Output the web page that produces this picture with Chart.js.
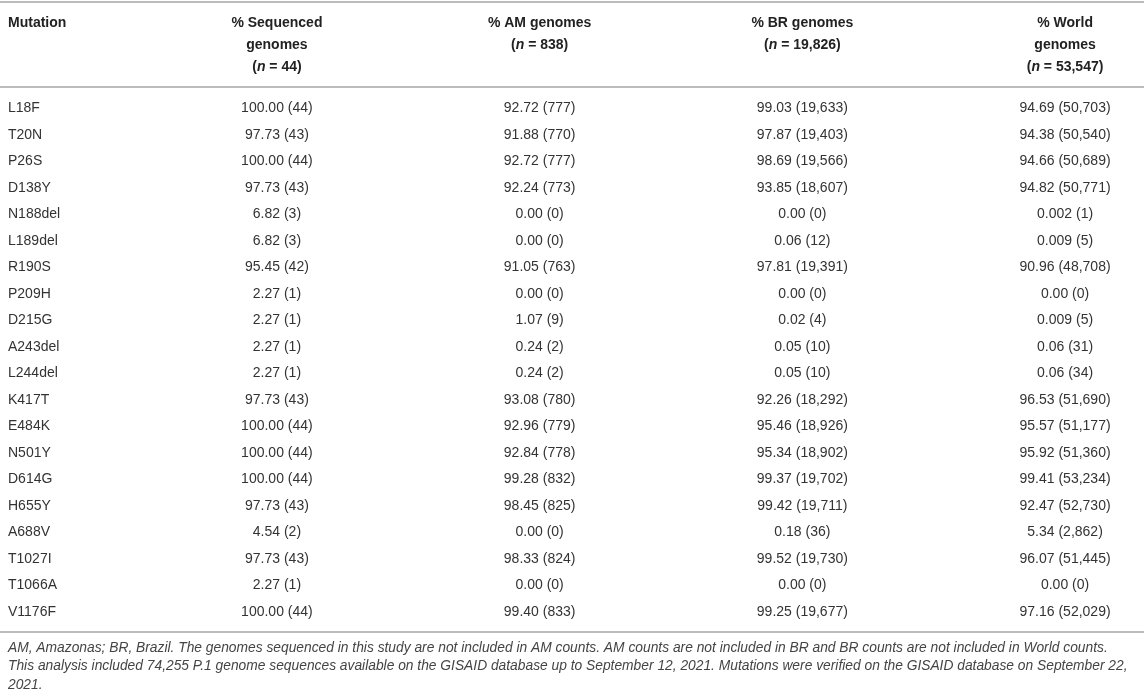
<!DOCTYPE html>
<html>
<head>
<meta charset="utf-8">
<script src="https://cdn.jsdelivr.net/npm/chart.js@4/dist/chart.umd.min.js"></script>
<style>
  html, body { margin: 0; padding: 0; background: #fff; }
  #wrap { width: 1144px; height: 697px; }
</style>
</head>
<body>
<div id="wrap"><canvas id="chart" width="1144" height="697"></canvas></div>
<script>
// rows of the table
const mutations = ['L18F', 'T20N', 'P26S', 'D138Y', 'N188del', 'L189del', 'R190S', 'P209H', 'D215G',
    'A243del', 'L244del', 'K417T', 'E484K', 'N501Y', 'D614G', 'H655Y', 'A688V', 'T1027I', 'T1066A', 'V1176F'];

// % and counts, one pair of arrays per column
const seqPct = [100.00, 97.73, 100.00, 97.73, 6.82, 6.82, 95.45, 2.27, 2.27, 2.27, 2.27, 97.73, 100.00, 100.00, 100.00, 97.73, 4.54, 97.73, 2.27, 100.00];
const seqN = [44, 43, 44, 43, 3, 3, 42, 1, 1, 1, 1, 43, 44, 44, 44, 43, 2, 43, 1, 44];

const amPct = [92.72, 91.88, 92.72, 92.24, 0.00, 0.00, 91.05, 0.00, 1.07, 0.24, 0.24, 93.08, 92.96, 92.84, 99.28, 98.45, 0.00, 98.33, 0.00, 99.40];
const amN = [777, 770, 777, 773, 0, 0, 763, 0, 9, 2, 2, 780, 779, 778, 832, 825, 0, 824, 0, 833];

const brPct = [99.03, 97.87, 98.69, 93.85, 0.00, 0.06, 97.81, 0.00, 0.02, 0.05, 0.05, 92.26, 95.46, 95.34, 99.37, 99.42, 0.18, 99.52, 0.00, 99.25];
const brN = [19633, 19403, 19566, 18607, 0, 12, 19391, 0, 4, 10, 10, 18292, 18926, 18902, 19702, 19711, 36, 19730, 0, 19677];

const worldPct = [94.69, 94.38, 94.66, 94.82, 0.002, 0.009, 90.96, 0.00, 0.009, 0.06, 0.06, 96.53, 95.57, 95.92, 99.41, 92.47, 5.34, 96.07, 0.00, 97.16];
const worldN = [50703, 50540, 50689, 50771, 1, 5, 48708, 0, 5, 31, 34, 51690, 51177, 51360, 53234, 52730, 2862, 51445, 0, 52029];

// column headers
const firstHeader = 'Mutation';
const headerTitles = [['% Sequenced', 'genomes'], ['% AM genomes'], ['% BR genomes'], ['% World', 'genomes']];
const headerTotals = [44, 838, 19826, 53547];

const footnote = [
    'AM, Amazonas; BR, Brazil. The genomes sequenced in this study are not included in AM counts. AM counts are not included in BR and BR counts are not included in World counts.',
    'This analysis included 74,255 P.1 genome sequences available on the GISAID database up to September 12, 2021. Mutations were verified on the GISAID database on September 22,',
    '2021.'
];

const columns = [[seqPct, seqN], [amPct, amN], [brPct, brN], [worldPct, worldN]];

const FONT = '"Liberation Sans", Arial, Helvetica, sans-serif';
const textColor = '#333';
const ruleColor = '#bcbcbc';

function fmtPct(v) {
    return (v > 0 && v < 0.01) ? v.toFixed(3) : v.toFixed(2);
}
function fmtN(n) {
    return n.toLocaleString('en-US');
}

// draws header, rules, cells and footnote
const tablePlugin = {
    id: 'tableText',
    afterDraw(chart) {
        const ctx = chart.ctx;
        const area = chart.chartArea;
        const xs = chart.scales.x;
        const W = chart.width;

        ctx.save();
        // rules
        ctx.strokeStyle = ruleColor;
        ctx.lineWidth = 2;
        [2, area.top - 8, area.bottom + 7].forEach(y => {
            ctx.beginPath();
            ctx.moveTo(0, y);
            ctx.lineTo(W, y);
            ctx.stroke();
        });

        // header
        const bold = 'bold 14px ' + FONT;
        const boldIt = 'italic bold 14px ' + FONT;
        const top = 23;
        const lineH = 22;
        ctx.fillStyle = '#222';
        ctx.textBaseline = 'middle';
        ctx.font = bold;
        ctx.textAlign = 'left';
        ctx.fillText(firstHeader, 8, top);

        headerTitles.forEach((lines, i) => {
            const cx = xs.getPixelForValue(i + 1);
            ctx.font = bold;
            ctx.textAlign = 'center';
            lines.forEach((t, k) => ctx.fillText(t, cx, top + k * lineH));
            // "(n = ...)" line with italic n
            const parts = [['(', bold], ['n', boldIt], [' = ' + fmtN(headerTotals[i]) + ')', bold]];
            let total = 0;
            parts.forEach(p => { ctx.font = p[1]; total += ctx.measureText(p[0]).width; });
            let x = cx - total / 2;
            const y = top + lines.length * lineH;
            ctx.textAlign = 'left';
            parts.forEach(p => {
                ctx.font = p[1];
                ctx.fillText(p[0], x, y);
                x += ctx.measureText(p[0]).width;
            });
        });

        // cells
        ctx.font = '14px ' + FONT;
        ctx.fillStyle = textColor;
        ctx.textAlign = 'center';
        chart.data.datasets.forEach((ds, i) => {
            const meta = chart.getDatasetMeta(i);
            const [pct, n] = columns[i];
            meta.data.forEach((pt, r) => {
                ctx.fillText(fmtPct(pct[r]) + ' (' + fmtN(n[r]) + ')', pt.x, pt.y);
            });
        });

        // footnote
        ctx.font = 'italic 13.8px ' + FONT;
        ctx.fillStyle = '#444';
        ctx.textAlign = 'left';
        footnote.forEach((t, k) => ctx.fillText(t, 8, area.bottom + 23 + k * 18.5));
        ctx.restore();
    }
};

const grafico = document.getElementById('chart');
new Chart(grafico, {
    type: 'scatter',
    data: {
        datasets: columns.map((col, i) => ({
            label: headerTitles[i].join(' '),
            data: mutations.map(m => ({ x: i + 1, y: m })),
            pointRadius: 0,
            showLine: false
        }))
    },
    options: {
        responsive: false,
        animation: false,
        events: [],
        layout: {
            padding: { left: 8, right: 8, top: 95, bottom: 72 }
        },
        plugins: {
            legend: { display: false },
            tooltip: { enabled: false }
        },
        scales: {
            x: {
                type: 'linear',
                display: false,
                min: 0.357,
                max: 4.27
            },
            y: {
                type: 'category',
                labels: mutations,
                offset: true,
                grid: { display: false },
                border: { display: false },
                ticks: {
                    crossAlign: 'far',
                    autoSkip: false,
                    padding: 0,
                    color: textColor,
                    font: { family: FONT, size: 14 }
                },
                afterFit: scale => { scale.width = 100; }
            }
        }
    },
    plugins: [tablePlugin]
});
</script>
</body>
</html>
